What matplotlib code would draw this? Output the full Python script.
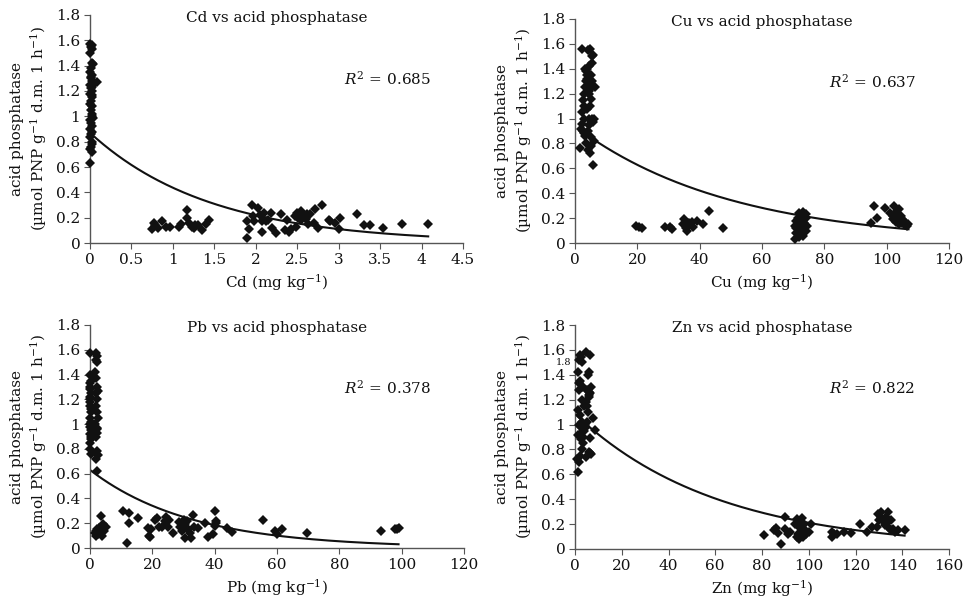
import numpy as np
import matplotlib
matplotlib.use("Agg")
import matplotlib.pyplot as plt

plt.rcParams['font.family'] = ['DejaVu Serif']
plt.rcParams['mathtext.fontset'] = 'dejavuserif'

# ---------------- data ----------------
cd_x = [0.00, 0.01, 0.02, 0.03, 0.00, 0.02, 0.04, 0.01, 0.00, 0.03, 0.01, 0.02, 0.08, 0.00, 0.02,
        0.01, 0.03, 0.00, 0.02, 0.01, 0.00, 0.03, 0.01, 0.02, 0.04, 0.00, 0.01, 0.03, 0.00, 0.02,
        0.01, 0.00, 0.02, 0.03, 0.01, 0.00, 0.02, 0.01, 0.05, 0.03, 0.00, 0.02,
        0.75, 0.77, 0.79, 0.82, 0.87, 0.92, 0.96, 1.07, 1.10, 1.17, 1.17, 1.20, 1.23, 1.25, 1.27,
        1.30, 1.35, 1.40, 1.43, 1.89, 1.89, 1.92, 1.95, 1.97, 1.98, 2.03, 2.05, 2.07, 2.08, 2.10,
        2.12, 2.15, 2.18, 2.19, 2.24, 2.30, 2.35, 2.38, 2.40, 2.43, 2.47, 2.48, 2.50, 2.51, 2.52,
        2.54, 2.55, 2.56, 2.58, 2.60, 2.62, 2.63, 2.66, 2.70, 2.72, 2.75, 2.80, 2.88, 2.90, 2.95,
        3.00, 3.02, 3.22, 3.30, 3.38, 3.53, 3.77, 4.08]
cd_y = [1.57, 1.55, 1.56, 1.53, 1.50, 1.42, 1.41, 1.38, 1.35, 1.33, 1.30, 1.28, 1.27, 1.25, 1.23,
        1.22, 1.20, 1.18, 1.15, 1.12, 1.10, 1.08, 1.05, 1.00, 0.99, 0.97, 0.95, 0.92, 0.90, 0.88,
        0.86, 0.84, 0.80, 0.78, 0.76, 0.74, 0.72, 1.31, 1.26, 1.17, 0.63, 1.02,
        0.11, 0.16, 0.14, 0.12, 0.17, 0.13, 0.13, 0.13, 0.15, 0.26, 0.20, 0.16, 0.13, 0.12, 0.14,
        0.14, 0.10, 0.15, 0.18, 0.04, 0.17, 0.11, 0.30, 0.21, 0.17, 0.28, 0.22, 0.09, 0.17, 0.24,
        0.17, 0.18, 0.24, 0.12, 0.08, 0.23, 0.10, 0.18, 0.09, 0.11, 0.21, 0.13, 0.24, 0.20, 0.22,
        0.25, 0.18, 0.23, 0.21, 0.19, 0.23, 0.15, 0.23, 0.16, 0.27, 0.12, 0.30, 0.18, 0.17, 0.16,
        0.11, 0.20, 0.23, 0.14, 0.14, 0.12, 0.15, 0.15]

cu_x = [1.6, 2.1, 2.5, 3.0, 3.4, 3.8, 4.2, 4.6, 4.8, 5.2, 5.6, 5.9, 2.3, 2.8, 3.3, 3.7, 4.1, 4.5,
        5.0, 5.4, 5.8, 6.2, 2.0, 2.6, 3.1, 3.5, 3.9, 4.4, 4.9, 5.3, 5.7, 6.1, 2.4, 2.9, 3.6, 4.3,
        4.7, 5.1, 5.5, 6.4, 3.2, 4.0, 4.6, 5.2, 5.9, 3.0, 4.4, 5.0,
        19.5, 20.5, 21.5, 29.0, 30.5, 31.0, 34.5, 35.0, 35.5, 36.0, 36.5, 37.5, 38.0, 39.0, 41.0,
        43.0, 47.5,
        70.5, 71.0, 71.0, 71.5, 71.5, 72.0, 72.0, 72.5, 72.5, 73.0, 73.0, 73.5, 73.5, 74.0, 74.0,
        74.5, 72.0, 71.0, 73.0, 72.5, 70.5, 74.0,
        95.0, 96.0, 97.0, 99.5, 101.0, 102.0, 102.5, 103.0, 103.5, 104.0, 104.0, 104.5, 105.0,
        105.0, 105.5, 106.0, 106.5, 107.0, 103.0, 102.0, 104.0]
cu_y = [0.76, 1.56, 0.90, 1.10, 1.30, 1.40, 1.55, 1.20, 1.56, 1.35, 1.00, 0.63, 1.05, 0.88, 1.25,
        1.32, 0.75, 1.00, 1.28, 1.45, 0.97, 1.00, 0.92, 1.15, 1.40, 0.80, 1.08, 1.22, 0.72, 1.30,
        1.26, 0.82, 0.96, 1.20, 1.38, 0.90, 1.10, 0.85, 1.50, 1.25, 0.86, 1.35, 1.42, 0.78, 1.51,
        1.00, 0.95, 1.16,
        0.14, 0.13, 0.12, 0.13, 0.13, 0.11, 0.15, 0.19, 0.12, 0.10, 0.16, 0.17, 0.13, 0.18, 0.15,
        0.26, 0.12,
        0.03, 0.08, 0.12, 0.16, 0.20, 0.24, 0.10, 0.14, 0.18, 0.22, 0.06, 0.12, 0.16, 0.20, 0.10,
        0.14, 0.05, 0.18, 0.25, 0.22, 0.14, 0.23,
        0.16, 0.30, 0.20, 0.28, 0.24, 0.22, 0.30, 0.25, 0.20, 0.27, 0.18, 0.22, 0.16, 0.19, 0.15,
        0.17, 0.14, 0.15, 0.17, 0.19, 0.15]

pb_x = [0.0, 0.1, 0.2, 0.0, 0.3, 0.1, 0.0, 0.2, 0.1, 0.0, 0.3, 0.2, 0.1, 0.0, 0.2, 0.1, 0.0, 0.3,
        0.1, 0.0, 0.2, 0.1, 0.0, 0.2,
        1.8, 2.1, 2.4, 1.6, 2.2, 2.5, 1.9, 2.3, 2.0, 2.6, 1.7, 2.2, 2.4, 1.9, 2.1, 2.5, 2.0, 2.3,
        1.8, 2.2, 2.4, 2.0,
        1.5, 1.8, 2.2, 2.5, 2.8, 3.0, 3.3, 3.5, 3.8, 4.2, 4.5, 5.0, 2.0, 3.0,
        10.5, 12.0, 12.5, 12.5, 15.5, 18.5, 19.0, 19.3, 19.7, 21.0, 21.5, 22.0, 23.0, 24.0, 24.5,
        25.0, 25.5, 26.5, 28.5, 29.0, 29.5, 30.0, 30.5, 30.5, 31.0, 31.5, 32.0, 32.5, 33.0, 33.5,
        34.5, 37.0, 38.0, 39.5, 40.0, 40.0, 40.3, 40.5, 44.0, 45.5, 55.5, 59.5, 60.0, 61.5, 69.5,
        93.5, 98.0, 98.5, 99.0]
pb_y = [1.57, 1.40, 1.35, 1.30, 1.25, 1.20, 1.15, 1.10, 1.05, 1.00, 0.95, 0.90, 0.85, 0.80,
        0.76, 1.28, 1.22, 1.12, 0.98, 0.92, 0.88, 1.33, 1.18, 1.02,
        1.57, 1.55, 1.50, 1.42, 1.30, 1.27, 1.25, 1.20, 1.15, 1.05, 1.00, 0.97, 0.93, 0.90, 0.78,
        0.75, 0.72, 0.62, 1.37, 1.10, 0.96, 1.52,
        0.12, 0.14, 0.15, 0.11, 0.13, 0.16, 0.12, 0.26, 0.10, 0.19, 0.14, 0.17, 0.10, 0.12,
        0.30, 0.04, 0.20, 0.28, 0.24, 0.16, 0.10, 0.09, 0.15, 0.23, 0.24, 0.17, 0.17, 0.22, 0.25,
        0.17, 0.23, 0.12, 0.21, 0.17, 0.14, 0.23, 0.08, 0.19, 0.22, 0.15, 0.12, 0.08, 0.27, 0.17,
        0.16, 0.20, 0.09, 0.11, 0.30, 0.18, 0.22, 0.20, 0.16, 0.13, 0.23, 0.14, 0.11, 0.15, 0.12,
        0.14, 0.15, 0.15, 0.16]

zn_x = [1.1, 2.1, 6.4, 1.5, 2.5, 3.0, 4.5, 5.5, 6.0, 1.2, 2.0, 3.5, 5.0, 6.5, 1.8, 2.8, 4.0,
        5.8, 7.0, 1.3, 2.3, 3.2, 4.8, 6.2, 7.8, 8.6, 1.6, 2.6, 3.8, 5.2, 6.4, 1.4, 2.4, 3.3, 4.2,
        5.6, 6.4, 1.0, 2.2, 3.0, 4.6, 5.9, 6.9, 1.7, 3.6, 5.3, 1.9, 2.7, 4.4, 6.1,
        81.0, 85.0, 86.0, 87.0, 88.0, 90.0, 90.0, 91.0, 92.0, 94.0, 95.0, 95.0, 95.5, 96.0, 96.0,
        96.5, 97.0, 97.0, 97.5, 98.0, 98.0, 99.0, 100.0, 101.0, 110.0, 110.0, 111.0, 112.0, 115.0,
        118.0, 122.0, 125.0, 127.0, 129.0, 129.5, 130.0, 131.0, 131.0, 132.0, 132.5, 133.0, 134.0,
        134.5, 135.0, 135.0, 136.0, 137.0, 138.0, 141.0, 133.0]
zn_y = [0.62, 1.56, 1.56, 1.52, 1.54, 1.50, 1.58, 1.40, 1.42, 1.42, 1.35, 1.30, 1.28, 1.25,
        1.33, 1.20, 1.15, 1.22, 1.30, 1.12, 1.08, 1.02, 1.18, 1.26, 1.05, 0.96, 1.00, 0.98, 0.95,
        1.02, 0.89, 0.92, 0.88, 0.85, 1.00, 1.10, 0.77, 0.72, 0.75, 0.80, 0.74, 0.78, 0.76, 0.70,
        0.90, 1.15, 1.28, 0.93, 0.97, 1.24,
        0.11, 0.15, 0.17, 0.13, 0.04, 0.26, 0.16, 0.12, 0.14, 0.20, 0.10, 0.24, 0.12, 0.18, 0.08,
        0.22, 0.14, 0.25, 0.10, 0.16, 0.20, 0.12, 0.14, 0.20, 0.10, 0.14, 0.12, 0.12, 0.14, 0.13,
        0.20, 0.14, 0.18, 0.18, 0.28, 0.23, 0.30, 0.25, 0.22, 0.19, 0.26, 0.30, 0.17, 0.23, 0.15,
        0.16, 0.14, 0.15, 0.15, 0.21]

# exponential trend lines y = a * exp(-b x)
trend_a = [0.87, 0.937, 0.63, 1.085]
trend_b = [0.69, 0.020, 0.0307, 0.0164]
trend_range = [(0.0, 4.08), (2.0, 107.0), (0.0, 99.0), (1.0, 141.0)]

metals = ['Cd', 'Cu', 'Pb', 'Zn']
r2_values = ['0.685', '0.637', '0.378', '0.822']
x_limits = [(0, 4.5), (0, 120), (0, 120), (0, 160)]
x_ticks = [[0, 0.5, 1, 1.5, 2, 2.5, 3, 3.5, 4, 4.5],
           [0, 20, 40, 60, 80, 100, 120],
           [0, 20, 40, 60, 80, 100, 120],
           [0, 20, 40, 60, 80, 100, 120, 140, 160]]
y_ticks = [0, 0.2, 0.4, 0.6, 0.8, 1, 1.2, 1.4, 1.6, 1.8]
# stray label printed over the Zn panel's y axis in the original
zn_stray_label = '1.8'
zn_stray_y = 1.5
xs = [cd_x, cu_x, pb_x, zn_x]
ys = [cd_y, cu_y, pb_y, zn_y]

# ---------------- figure ----------------
W, H = 974, 598
fig = plt.figure(figsize=(W / 100, H / 100), dpi=100)

# axes boxes in pixels: left, right, top, bottom
boxes = [(90, 463, 15, 243), (575, 949, 19, 243), (90, 464, 325, 548), (575, 949, 325, 549)]

fs = 11
spine_col = '#555555'
txt_col = '#111111'
for i, (l, r, t, b) in enumerate(boxes):
    ax = fig.add_axes([l / W, 1 - b / H, (r - l) / W, (b - t) / H])
    ax.set_xlim(*x_limits[i])
    ax.set_ylim(0, 1.8)
    ax.set_xticks(x_ticks[i])
    ax.set_xticklabels([f'{v:g}' for v in x_ticks[i]])
    ax.set_yticks(y_ticks)
    ax.set_yticklabels([f'{v:g}' for v in y_ticks])
    for s in ['top', 'right']:
        ax.spines[s].set_visible(False)
    for s in ['left', 'bottom']:
        ax.spines[s].set_color(spine_col)
        ax.spines[s].set_linewidth(1.0)
    ax.tick_params(direction='out', length=4, width=0.8, color=spine_col,
                   labelsize=fs, pad=3, labelcolor=txt_col)
    ax.set_facecolor('none')

    ax.plot(xs[i], ys[i], linestyle='none', marker='D', markersize=4.8,
            color=txt_col, markeredgewidth=0, clip_on=False, zorder=3)

    x0, x1 = trend_range[i]
    tx = np.linspace(x0, x1, 200)
    ax.plot(tx, trend_a[i] * np.exp(-trend_b[i] * tx), color=txt_col, lw=1.5, zorder=2)

    ax.text(0.5, 0.985, f'{metals[i]} vs acid phosphatase', transform=ax.transAxes,
            ha='center', va='center', fontsize=fs, color=txt_col)
    ax.text(0.68, 0.72, r'$\mathit{R}^{\mathregular{2}}$' + f' = {r2_values[i]}',
            transform=ax.transAxes, ha='left', va='center', fontsize=fs, color=txt_col)
    ax.set_xlabel(f'{metals[i]} (mg kg$^{{\\mathregular{{-1}}}}$)', fontsize=fs,
                  labelpad=4, color=txt_col)
    ax.set_ylabel('acid phosphatase\n(\u00b5mol PNP g$^{\\mathregular{-1}}$ d.m. 1 h$^{\\mathregular{-1}}$)',
                  fontsize=fs, labelpad=5, color=txt_col, linespacing=1.3)

    if metals[i] == 'Zn':
        ax.annotate(zn_stray_label, xy=(0, zn_stray_y), xycoords=('axes fraction', 'data'),
                    xytext=(-3, 0), textcoords='offset points', ha='right', va='center',
                    fontsize=7, color=txt_col)

fig.savefig('out.png', dpi=100)
